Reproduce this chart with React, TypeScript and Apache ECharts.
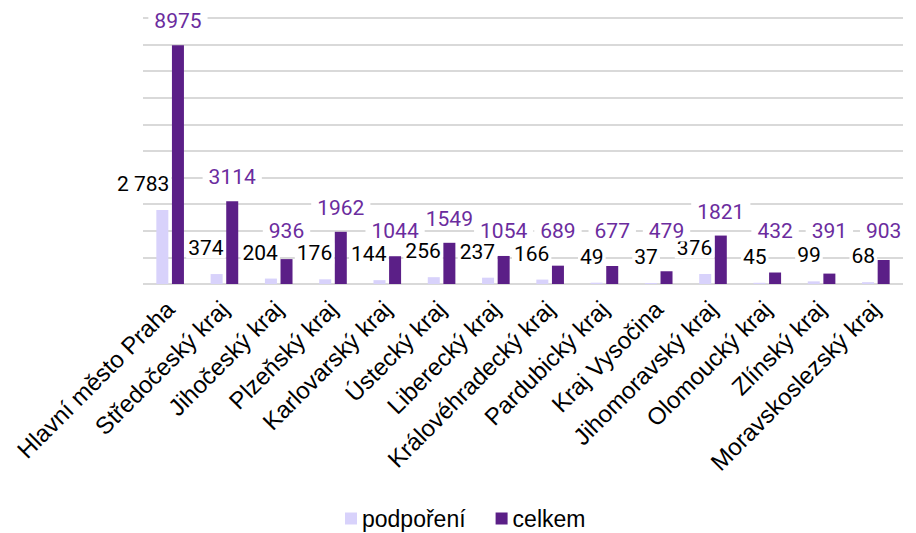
import React, { useEffect, useRef } from "react";
import * as echarts from "echarts";

const categories = [
  "Hlavní město Praha",
  "Středočeský kraj",
  "Jihočeský kraj",
  "Plzeňský kraj",
  "Karlovarský kraj",
  "Ústecký kraj",
  "Liberecký kraj",
  "Královéhradecký kraj",
  "Pardubický kraj",
  "Kraj Vysočina",
  "Jihomoravský kraj",
  "Olomoucký kraj",
  "Zlínský kraj",
  "Moravskoslezský kraj",
];
const podporeni = [2783, 374, 204, 176, 144, 256, 237, 166, 49, 37, 376, 45, 99, 68];
const celkem = [8975, 3114, 936, 1962, 1044, 1549, 1054, 689, 677, 479, 1821, 432, 391, 903];
const seriesNames = ["podpoření", "celkem"];

const LIGHT = "#d8d2fb";
const DARK = "#5b1f87";
const LABEL_PURPLE = "#6b2c9e";

export default function App() {
  const ref = useRef<HTMLDivElement>(null);
  useEffect(() => {
    if (!ref.current) return;
    const chart = echarts.init(ref.current, null, { renderer: "svg" });
    chart.setOption({
      animation: false,
      backgroundColor: "#ffffff",
      grid: { left: 143, right: 13, top: 18, bottom: 249, containLabel: false },
      legend: {
        bottom: 3,
        left: 345,
        padding: 0,
        itemWidth: 12,
        itemHeight: 12,
        itemGap: 30,
        icon: "rect",
        textStyle: { fontFamily: "Liberation Sans", fontSize: 23, color: "#000" },
        data: seriesNames,
      },
      xAxis: {
        type: "category",
        data: categories,
        axisLine: { show: false },
        axisTick: { show: false },
        axisLabel: {
          interval: 0,
          rotate: 45,
          margin: 21,
          fontFamily: "Liberation Sans",
          fontSize: 24,
          color: "#000",
        },
      },
      yAxis: {
        type: "value",
        min: 0,
        max: 10000,
        interval: 1000,
        axisLabel: { show: false },
        axisLine: { show: false },
        axisTick: { show: false },
        splitLine: { lineStyle: { color: "#d9d9d9", width: 2 } },
      },
      series: [
        {
          name: seriesNames[0],
          type: "bar",
          data: podporeni,
          barWidth: 12,
          barGap: "30%",
          itemStyle: { color: LIGHT },
          label: {
            show: true,
            position: "top",
            formatter: (p: any) => String(p.value).replace(/\B(?=(\d{3})+(?!\d))/g, " "),
            fontFamily: "Roboto",
            fontSize: 21,
            color: "#000",
            backgroundColor: "#ffffff",
            padding: [0, 2],
          },
          labelLayout: (p: any) => ({
            x: p.rect.x + p.rect.width + 3,
            y: Math.min(p.rect.y - 26, 260),
            align: "right",
            verticalAlign: "middle",
          }),
        },
        {
          name: seriesNames[1],
          type: "bar",
          data: celkem,
          barWidth: 12,
          itemStyle: { color: DARK },
          label: {
            show: true,
            position: "top",
            fontFamily: "Roboto",
            fontSize: 21,
            color: LABEL_PURPLE,
            backgroundColor: "#ffffff",
            padding: [0, 6],
          },
          labelLayout: (p: any) => ({
            x: p.rect.x + p.rect.width / 2,
            y: Math.min(p.rect.y - 24, 231),
            align: "center",
            verticalAlign: "middle",
          }),
        },
      ],
    });
    return () => chart.dispose();
  }, []);
  return (
    <div
      ref={ref}
      style={{ position: "fixed", left: 0, top: 0, width: 916, height: 533 }}
    />
  );
}
